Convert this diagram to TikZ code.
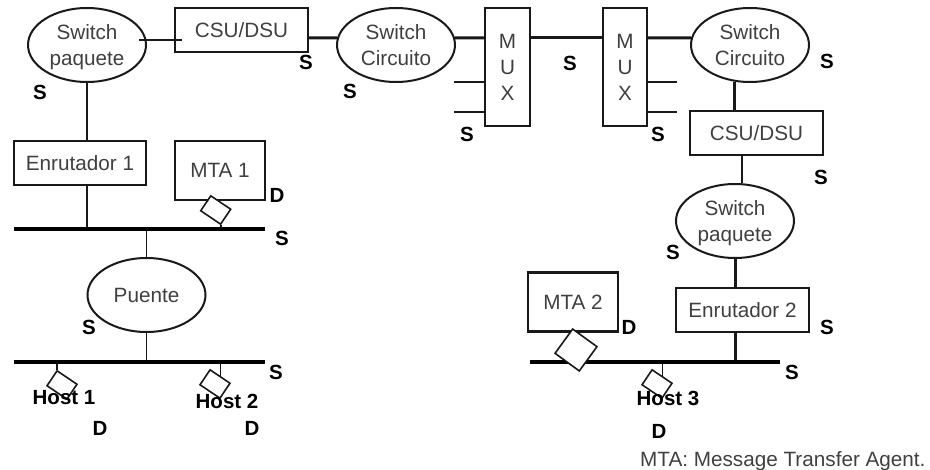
\documentclass[tikz,border=0pt]{standalone}
\usepackage{fontspec}
\setmainfont{Liberation Sans}
\usepackage{tikz}
\usetikzlibrary{shapes.geometric,calc}

\begin{document}
\begin{tikzpicture}[
    x=1pt,
    y=-1pt,
    lbl/.style={
        font=\fontsize{20.7}{26}\selectfont,
        text=black!75,
        text depth=0pt,
        align=center
    },
    swt/.style={
        lbl,
        ellipse,
        draw=black!90,
        line width=2pt,
        fill=white,
        inner sep=0pt,
        minimum width=118pt,
        minimum height=74pt
    },
    box/.style={
        lbl,
        rectangle,
        draw=black!90,
        line width=2.2pt,
        fill=white,
        inner sep=0pt
    },
    tag/.style={
        rectangle,
        draw=black!90,
        line width=1.6pt,
        fill=white,
        inner sep=0pt,
        rotate=-34,
        minimum width=24pt,
        minimum height=18pt
    },
    bus/.style={
        rectangle,
        fill=black,
        inner sep=0pt,
        minimum width=#1,
        minimum height=4.4pt
    },
    wire/.style={black!90,line width=#1},
    wire/.default=2.2pt,
    sig/.style={
        font=\fontsize{20.5}{24}\selectfont\bfseries,
        text=black,
        inner sep=0pt
    }
]
\useasboundingbox (0,0) rectangle (930,470);

% Buses
\node[bus=251pt] (bus1) at (139.5,229) {};
\node[bus=251pt] (bus2) at (139.5,362) {};
\node[bus=250pt] (bus3) at (655,362) {};

% Top row
\node[swt] (swpaq1) at (87,45) {Switch\\paquete};
\node[box,minimum width=133pt,minimum height=44pt] (csu1) at (241.5,30) {CSU/DSU};
\node[swt] (swcir1) at (396,45) {Switch\\Circuito};
\node[box,text depth=-4pt,minimum width=45pt,minimum height=118pt] (mux1) at (507.5,67) {M\\U\\X};
\node[box,text depth=-4pt,minimum width=44pt,minimum height=118pt] (mux2) at (625,67) {M\\U\\X};
\node[swt] (swcir2) at (750,45) {Switch\\Circuito};

% Left side
\node[box,minimum width=132pt,minimum height=44pt] (enru1) at (80,163) {Enrutador 1};
\node[box,text depth=-4pt,minimum width=90pt,minimum height=59pt] (mta1) at (220,170.5) {MTA 1};
\node[swt,text depth=-4pt] (puente) at (146.5,295) {Puente};

% Right side
\node[box,minimum width=133pt,minimum height=44pt] (csu2) at (756.5,133) {CSU/DSU};
\node[swt] (swpaq2) at (735,221) {Switch\\paquete};
\node[box,minimum width=133pt,minimum height=44pt] (enru2) at (742.5,310) {Enrutador 2};
\node[box,text depth=-4pt,minimum width=90pt,minimum height=59pt] (mta2) at (573,302) {MTA 2};

% Free ends of the multiplexer lines
\coordinate (stub1) at (454,82);
\coordinate (stub2) at (454,112);
\coordinate (stub3) at (677,82);
\coordinate (stub4) at (677,112);

% Left links
\draw[wire=1.8pt] ([xshift=-8pt,yshift=5pt]swpaq1.east) -- ([xshift=8pt,yshift=-10pt]csu1.west);
\draw[wire] (swpaq1.south) -- (swpaq1.south |- enru1.north);
\draw[wire] (swpaq1.south |- enru1.south) -- (swpaq1.south |- bus1.north);
\draw[wire=1.8pt] (puente.north |- bus1.south) -- (puente.north);
\draw[wire=1.8pt] (puente.south) -- (puente.south |- bus2.north);

% Top links
\draw[wire=3pt] ([yshift=-8pt]csu1.east) -- (swcir1.173);
\draw[wire=3pt] (swcir1.7) -- ([yshift=29pt]mux1.west);
\draw[wire=3pt] ([yshift=29pt]mux1.east) -- ([yshift=29pt]mux2.west);
\draw[wire=3pt] ([yshift=29pt]mux2.east) -- (swcir2.173);
\draw[wire=1.6pt] (stub1) -- (mux1.west |- stub1);
\draw[wire=2pt] (stub2) -- (mux1.west |- stub2);
\draw[wire=1.6pt] (mux2.east |- stub3) -- (stub3);
\draw[wire=2pt] (mux2.east |- stub4) -- (stub4);

% Right links
\draw[wire=3pt] (swcir2.247) -- (swcir2.247 |- csu2.north);
\draw[wire] (swpaq2.79 |- csu2.south) -- (swpaq2.79);
\draw[wire=3pt] (swpaq2.south) -- (swpaq2.south |- enru2.north);
\draw[wire=3pt] (swpaq2.south |- enru2.south) -- (swpaq2.south |- bus3.north);

% Tags
\node[tag] (tag1) at (215.7,210) {};
\node[tag] (tag2) at (62,385) {};
\node[tag] (tag3) at (215,384) {};
\node[tag] (tag4) at (657,384) {};
\node[tag,minimum width=30pt,minimum height=30pt,rotate=-2] (tag5) at (576,350) {};
\draw[wire=1.6pt] (tag1.south east) -- (tag1.south east |- bus1.north);
\draw[wire=1.6pt] (tag2.north west |- bus2.south) -- (tag2.north west);
\draw[wire=1.6pt] (tag3.north |- bus2.south) -- (tag3.north);
\draw[wire=1.4pt] (tag4.north |- bus3.south) -- (tag4.north);

% Hosts
\node[sig] (host1) at (64,398) {Host 1};
\node[sig] (host2) at (227,401) {Host 2};
\node[sig] (host3) at (668,398) {Host 3};

% S marks
\node[sig] (s1) at (40,92) {S};
\node[sig] (s2) at (306,62) {S};
\node[sig] (s3) at (350,91) {S};
\node[sig] (s4) at (467,134) {S};
\node[sig] (s5) at (570,63) {S};
\node[sig] (s6) at (658,134) {S};
\node[sig] (s7) at (827,61) {S};
\node[sig] (s8) at (821,177) {S};
\node[sig] (s9) at (282,238) {S};
\node[sig] (s10) at (89,327) {S};
\node[sig] (s11) at (276,372) {S};
\node[sig] (s12) at (673,252) {S};
\node[sig] (s13) at (827,327) {S};
\node[sig] (s14) at (792,372) {S};

% D marks
\node[sig] (d1) at (277,195) {D};
\node[sig] (d2) at (100,428) {D};
\node[sig] (d3) at (252,428) {D};
\node[sig] (d4) at (629,327) {D};
\node[sig] (d5) at (659,431) {D};

% Note
\node[lbl,anchor=west,inner sep=0pt] (nota) at (640,459) {MTA: Message Transfer Agent.};

\end{tikzpicture}
\end{document}
